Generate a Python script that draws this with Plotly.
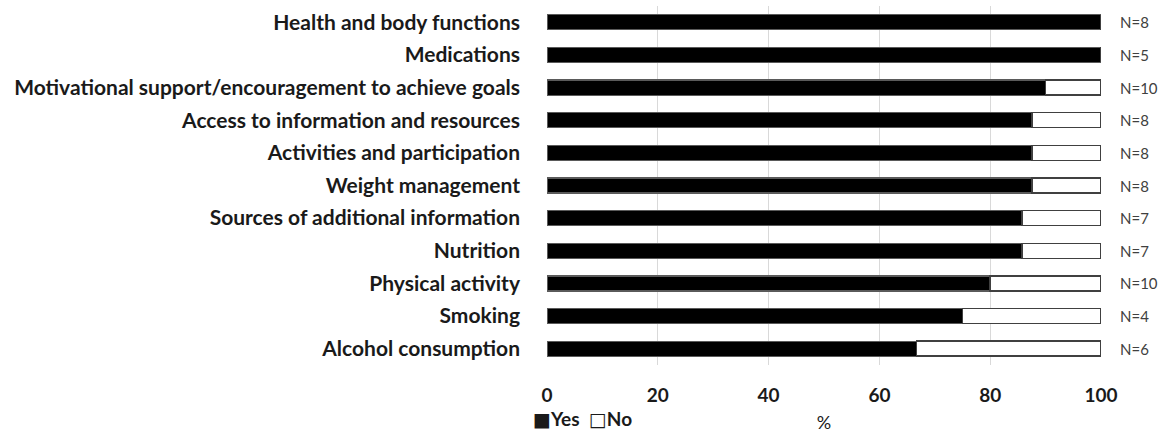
import plotly.graph_objects as go

categories = [
    "Health and body functions",
    "Medications",
    "Motivational support/encouragement to achieve goals",
    "Access to information and resources",
    "Activities and participation",
    "Weight management",
    "Sources of additional information",
    "Nutrition",
    "Physical activity",
    "Smoking",
    "Alcohol consumption",
]
yes_pct = [100, 100, 90, 87.5, 87.5, 87.5, 85.7, 85.7, 80, 75, 66.7]
no_pct = [0, 0, 10, 12.5, 12.5, 12.5, 14.3, 14.3, 20, 25, 33.3]
n_labels = ["N=8", "N=5", "N=10", "N=8", "N=8", "N=8", "N=7", "N=7", "N=10", "N=4", "N=6"]
x_ticks = [0, 20, 40, 60, 80, 100]
series_names = ["Yes", "No"]

FONT = "Lato"
TXT = "#1a1a1a"

fig = go.Figure()
fig.add_trace(go.Bar(
    y=categories, x=yes_pct, orientation="h", name=series_names[0],
    marker=dict(color="#000000", line=dict(color="#5a5a5a", width=1.2)),
))
fig.add_trace(go.Bar(
    y=categories, x=no_pct, orientation="h", name=series_names[1],
    marker=dict(color="#ffffff", line=dict(color="#404040", width=1.5)),
))

for cat, lab in zip(categories, n_labels):
    fig.add_annotation(
        x=100, y=cat, text=lab, showarrow=False, xanchor="left", xshift=17,
        font=dict(family=FONT, size=15, color="#404040"),
    )

# legend drawn as text, like the original "■Yes □No"
fig.add_annotation(
    xref="paper", yref="paper", x=-0.029, y=-0.15, xanchor="left", yanchor="middle",
    showarrow=False,
    text=("<span style='font-family:DejaVu Sans'>■</span>" + series_names[0]
          + "  <span style='font-family:DejaVu Sans;font-weight:normal'>□</span>" + series_names[1]),
    font=dict(family=FONT, size=19, color=TXT, weight="bold"),
)

fig.update_layout(
    barmode="stack",
    bargap=0.54,
    width=1165, height=433,
    margin=dict(l=547, r=64, t=6, b=68),
    plot_bgcolor="white", paper_bgcolor="white",
    font=dict(family=FONT, color=TXT),
    showlegend=False,
)
fig.update_xaxes(
    range=[0, 100], tickvals=x_ticks, showgrid=True, gridcolor="#d9d9d9", gridwidth=1,
    zeroline=False, showline=False, ticks="", automargin=False,
    tickfont=dict(family=FONT, size=19, color=TXT, weight="bold"),
    ticklabelstandoff=17,
    title=dict(text="%", font=dict(family=FONT, size=18, color=TXT), standoff=16),
)
fig.update_yaxes(
    autorange="reversed", showgrid=False, showline=False, ticks="", automargin=False,
    tickfont=dict(family=FONT, size=21, color=TXT, weight="bold"),
    ticklabelstandoff=26,
)

fig.write_html("out.html", config={"displayModeBar": False},
               post_script="document.body.style.margin='0';")
